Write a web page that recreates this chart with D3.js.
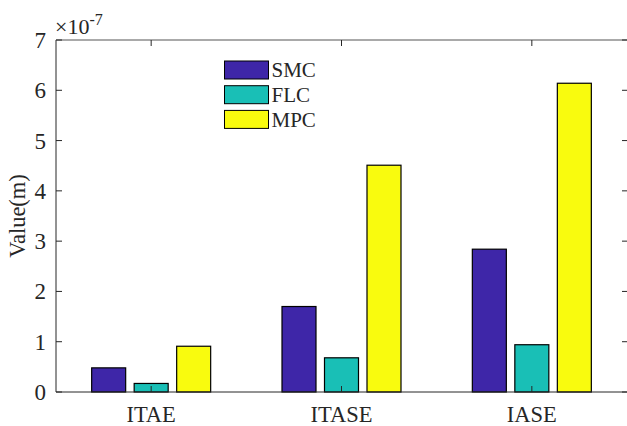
<!DOCTYPE html>
<html><head><meta charset="utf-8">
<script src="https://cdn.jsdelivr.net/npm/d3@7"></script>
<style>body{margin:0;background:#fff}svg{display:block}</style>
</head><body><svg id="c" width="627" height="426"></svg>
<script>
const categories = ["ITAE", "ITASE", "IASE"];
const seriesNames = ["SMC", "FLC", "MPC"];
const smc = [0.48, 1.70, 2.84];
const flc = [0.17, 0.68, 0.94];
const mpc = [0.91, 4.51, 6.14];
const yTicks = [0, 1, 2, 3, 4, 5, 6, 7];
const colors = ["#3E26A8", "#19BFB6", "#F9FB0E"];
const series = [smc, flc, mpc];
const FONT = "'Liberation Serif', 'Times New Roman', serif";

const svg = d3.select("#c");
const L = 56, R = 627, T = 40, B = 392;
const x = d3.scaleLinear().domain([0.5, 3.5]).range([L, R]);
const y = d3.scaleLinear().domain([0, 7]).range([B, T]);
const barW = 34, off = 42.5;

// bars
series.forEach((vals, si) => {
  svg.append("g").selectAll("rect").data(vals).join("rect")
    .attr("x", (d, i) => x(i + 1) + (si - 1) * off - barW / 2)
    .attr("y", d => y(d))
    .attr("width", barW)
    .attr("height", d => y(0) - y(d))
    .attr("fill", colors[si])
    .attr("stroke", "#000").attr("stroke-width", 1.2);
});

// axes
const axisColor = "#262626";
const g = svg.append("g");
g.append("line").attr("x1", L).attr("x2", L).attr("y1", T).attr("y2", B).attr("stroke", axisColor);
g.append("line").attr("x1", L).attr("x2", R).attr("y1", B).attr("y2", B).attr("stroke", axisColor);
g.append("line").attr("x1", L).attr("x2", R).attr("y1", T).attr("y2", T).attr("stroke", "#555");

function txt(sel) { return sel.append("text").style("font-family", FONT).attr("fill", "#262626"); }

yTicks.forEach(t => {
  g.append("line").attr("x1", L).attr("x2", L + 6).attr("y1", y(t)).attr("y2", y(t)).attr("stroke", axisColor);
  g.append("line").attr("x1", R - 5).attr("x2", R).attr("y1", y(t)).attr("y2", y(t)).attr("stroke", axisColor);
  txt(g).attr("x", L - 10).attr("y", y(t)).attr("dy", "0.35em")
    .attr("text-anchor", "end").attr("font-size", 23).text(t);
});
categories.forEach((c, i) => {
  g.append("line").attr("x1", x(i + 1)).attr("x2", x(i + 1)).attr("y1", B).attr("y2", B - 6).attr("stroke", axisColor);
  g.append("line").attr("x1", x(i + 1)).attr("x2", x(i + 1)).attr("y1", T).attr("y2", T + 6).attr("stroke", axisColor);
  txt(g).attr("x", x(i + 1)).attr("y", 421.5).attr("text-anchor", "middle").attr("font-size", 22.5).text(c);
});

// exponent
const ex = txt(svg).attr("x", 55).attr("y", 34).attr("font-size", 22);
ex.append("tspan").text("\u00d710");
ex.append("tspan").attr("dy", -9).attr("font-size", 16).text("-7");

// y label
txt(svg).attr("transform", "translate(25,216) rotate(-90)")
  .attr("text-anchor", "middle").attr("font-size", 22.5).text("Value(m)");

// legend
const lg = svg.append("g");
seriesNames.forEach((n, i) => {
  const ly = 61 + i * 24.7;
  lg.append("rect").attr("x", 224.5).attr("y", ly).attr("width", 44).attr("height", 18)
    .attr("fill", colors[i]).attr("stroke", "#000").attr("stroke-width", 1);
  txt(lg).attr("x", 271.5).attr("y", ly + 9).attr("dy", "0.35em").attr("font-size", 21).text(n);
});
</script></body></html>
